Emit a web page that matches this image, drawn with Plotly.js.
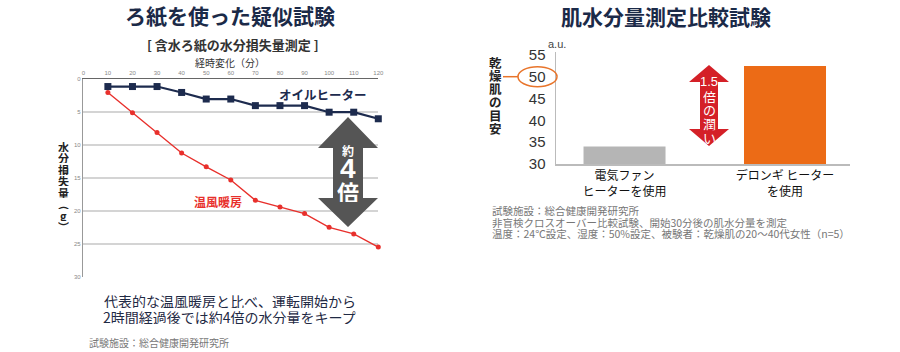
<!DOCTYPE html>
<html><head><meta charset="utf-8">
<script src="https://cdn.plot.ly/plotly-3.0.1.min.js"></script>
<style>html,body{margin:0;padding:0;background:#fff}</style>
</head><body><div id="chart" style="width:900px;height:352px"></div>
<script>
// ---- data ----
const minutes = [10,20,30,40,50,60,70,80,90,100,110,120];
const oilHeater = [1.1,1.1,1.1,2,3,3,4,4,4,5,5,6];
const warmAirHeater = [2,5.1,8.1,11.2,13.3,15.3,18.4,19.4,20.4,22.5,23.5,25.5];
const xTicksLeft = [0,10,20,30,40,50,60,70,80,90,100,110,120];
const yTicksLeft = [0,5,10,15,20,25,30];
const barCategories = ['電気ファン<br>ヒーターを使用', 'デロンギ ヒーター<br>を使用'];
const barValues = [34, 52.5];
const yTicksRight = [30,35,40,45,50,55];

const W = 900, H = 352;
const px = x => x / W;
const py = y => 1 - y / H;
const JP = 'Noto Sans CJK JP, sans-serif';
const NUM = 'Liberation Sans, Arial, sans-serif';

function ann(text, x, y, size, color, opts) {
  return Object.assign({text, x: px(x), y: py(y), xref:'paper', yref:'paper',
    showarrow:false, xanchor:'center', yanchor:'middle',
    font:{family:JP, size, color}}, opts || {});
}
function vtext(chars, x, y0, step, size, color, weight) {
  return chars.map((c,i) => ann(c, x, y0 + i*step, size, color,
    {height: step - 0.5, borderpad:0, font:{family:JP,size,color,weight:weight||400}}));
}
function poly(pts) {
  return 'M ' + pts.map(p => px(p[0]) + ',' + py(p[1])).join(' L ') + ' Z';
}

const navy = '#1d2b4e';
const red = '#e8302c';

const traces = [
  {x: minutes, y: oilHeater, xaxis:'x', yaxis:'y', mode:'lines+markers', cliponaxis:false,
   line:{color:navy, width:2.2}, marker:{symbol:'square', size:7, color:navy}, hoverinfo:'skip'},
  {x: minutes, y: warmAirHeater, xaxis:'x', yaxis:'y', mode:'lines+markers', cliponaxis:false,
   line:{color:red, width:1.4}, marker:{size:5, color:red}, hoverinfo:'skip'},
  {type:'bar', x: barCategories, y: barValues, xaxis:'x2', yaxis:'y2', width:0.511,
   marker:{color:['#b5b5b5','#ec6b16']}, hoverinfo:'skip'}
];

const annotations = [
  ann('ろ紙を使った疑似試験', 230, 15, 21, '#1b2a48', {font:{family:JP,size:21,color:'#1b2a48',weight:700}}),
  ann('肌水分量測定比較試験', 666, 16, 21, '#1b2a48', {font:{family:JP,size:21,color:'#1b2a48',weight:700}}),
  ann('[ 含水ろ紙の水分損失量測定 ]', 233, 44, 13, '#333', {font:{family:JP,size:13,color:'#333',weight:700}}),
  ann('経時変化（分）', 230, 63, 10, '#333'),
  ann('オイルヒーター', 323, 94, 12.5, navy, {font:{family:JP,size:12.5,color:navy,weight:700}}),
  ann('温風暖房', 218, 201, 12, red, {font:{family:JP,size:12,color:red,weight:700}}),
  ann('約', 348, 150, 12, '#fff', {height:13, borderpad:0, font:{family:JP,size:12,color:'#fff',weight:700}}),
  ann('4', 348, 168, 28, '#fff', {height:22, borderpad:0, font:{family:NUM,size:28,color:'#fff',weight:700}}),
  ann('倍', 348, 191, 22, '#fff', {height:22, borderpad:0, font:{family:JP,size:22,color:'#fff',weight:700}}),
  ann('代表的な温風暖房と比べ、運転開始から', 230, 300, 14, '#1f2a44', {height:15, borderpad:0}),
  ann('2時間経過後では約4倍の水分量をキープ', 230, 316, 14, '#1f2a44', {height:15, borderpad:0}),
  ann('試験施設：総合健康開発研究所', 87, 342, 10, '#777', {xanchor:'left'}),
  ann('a.u.', 557, 44, 11, '#444', {font:{family:NUM,size:11,color:'#444'}}),
  ann('1.5', 709, 82, 13, '#fff', {height:13, borderpad:0, font:{family:NUM,size:13,color:'#fff'}}),
  ann('試験施設：総合健康開発研究所', 491, 210, 10.5, '#777', {xanchor:'left', height:11, borderpad:0}),
  ann('非盲検クロスオーバー比較試験、開始30分後の肌水分量を測定', 491, 222, 10.5, '#777', {xanchor:'left', height:11, borderpad:0}),
  ann('温度：24℃設定、湿度：50%設定、被験者：乾燥肌の20〜40代女性（n=5）', 491, 233.5, 10.5, '#777', {xanchor:'left', height:11, borderpad:0})
].concat(
  vtext(['水','分','損','失','量','︵','g','︶'], 63, 146, 11.5, 11, '#222', 700),
  vtext(['乾','燥','肌','の','目','安'], 495, 62, 13.3, 12.5, '#222', 700),
  vtext(['倍','の','潤','い'], 709, 96, 13.8, 13, '#fff', 400)
);

const shapes = [
  {type:'path', xref:'paper', yref:'paper', fillcolor:'#555', line:{width:0},
   path: poly([[348,117],[378,148],[363,148],[363,198],[378,198],[348,227],[318,198],[333,198],[333,148],[318,148]])},
  {type:'path', xref:'paper', yref:'paper', fillcolor:'#d42027', line:{width:0},
   path: poly([[709,65],[729,82],[718,82],[718,129],[729,129],[709,146],[689,129],[700,129],[700,82],[689,82]])},
  {type:'line', xref:'paper', yref:'paper', x0:px(503), x1:px(518), y0:py(76.7), y1:py(76.7),
   line:{color:'#e8742a', width:1.5}},
  {type:'circle', xref:'paper', yref:'paper', x0:px(518), x1:px(557), y0:py(86.7), y1:py(66.7),
   line:{color:'#e8742a', width:1.5}}
];

const layout = {
  width:W, height:H, autosize:false, margin:{l:0,r:0,t:0,b:0},
  paper_bgcolor:'#fff', plot_bgcolor:'rgba(0,0,0,0)', showlegend:false,
  xaxis:{domain:[px(83.3), px(378.3)], range:[0,120], autorange:false, side:'top',
    tickvals:xTicksLeft, tickfont:{family:NUM, size:6, color:'#888'}, ticks:'',
    showline:true, linecolor:'#666', linewidth:1.5, showgrid:false, zeroline:false, anchor:'y'},
  yaxis:{domain:[py(276.7), py(79.3)], range:[30,0], autorange:false,
    tickvals:yTicksLeft, tickfont:{family:NUM, size:6, color:'#888'}, ticks:'',
    showline:true, linecolor:'#999', linewidth:1.5, showgrid:true, gridcolor:'#d4d4d4', gridwidth:1.5,
    zeroline:false, anchor:'x'},
  xaxis2:{domain:[px(556), px(850)], type:'category', range:[-0.427, 1.405], autorange:false,
    tickfont:{family:JP, size:12, color:'#111'}, ticks:'', showline:true, linecolor:'#bbb', linewidth:1.5,
    showgrid:false, zeroline:false, anchor:'y2'},
  yaxis2:{domain:[py(164), py(52)], range:[30,55.7], autorange:false,
    tickvals:yTicksRight, tickfont:{family:NUM, size:15, color:'#333'}, ticks:'',
    ticklabelstandoff:6,
    showline:true, linecolor:'#bbb', linewidth:1.5, showgrid:false, zeroline:false, anchor:'x2'},
  annotations, shapes
};

Plotly.newPlot('chart', traces, layout, {staticPlot:true, displayModeBar:false});
</script></body></html>
